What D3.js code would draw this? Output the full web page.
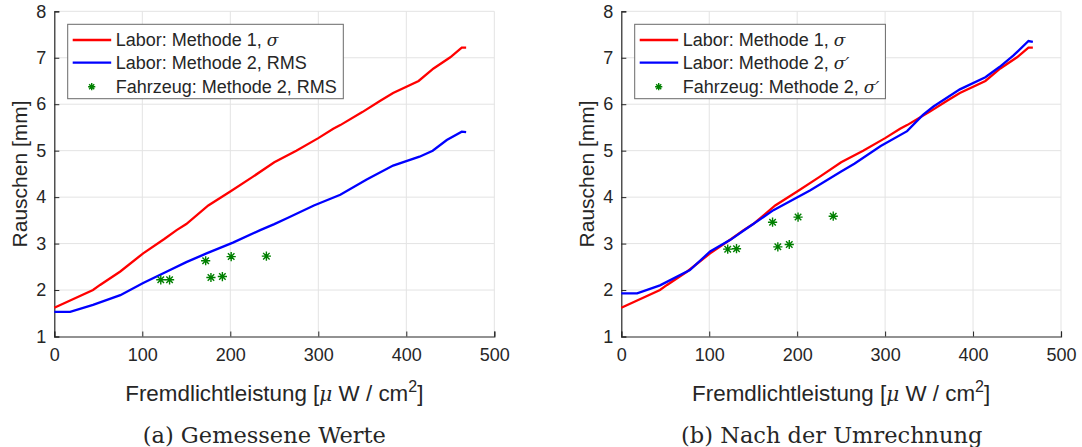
<!DOCTYPE html>
<html>
<head>
<meta charset="utf-8">
<script src="https://cdn.jsdelivr.net/npm/d3@7"></script>
<style>
  body { margin: 0; background: #fff; }
  text { font-family: "Liberation Sans", Arial, sans-serif; fill: #262626; }
</style>
</head>
<body>
<svg id="chart" width="1082" height="447"></svg>
<script>
// light power [µW/cm²] and noise [mm]
const xTicks = [0, 100, 200, 300, 400, 500];
const yTicks = [1, 2, 3, 4, 5, 6, 7, 8];

// Labor, Methode 1 (sigma) - same curve in both panels
const methode1X = [0, 44, 52, 75, 101, 125, 139, 150, 175, 200, 225, 250, 275, 300, 317, 325, 350, 370, 385, 414, 431, 450, 463, 468];
const methode1Y = [1.62, 2.0, 2.11, 2.4, 2.79, 3.1, 3.29, 3.42, 3.82, 4.12, 4.43, 4.75, 5.0, 5.27, 5.47, 5.55, 5.83, 6.07, 6.24, 6.5, 6.77, 7.01, 7.22, 7.22];

// Labor, Methode 2, RMS (left panel)
const rmsX = [0, 18, 44, 75, 101, 128, 150, 173, 203, 234, 250, 265, 295, 325, 355, 385, 415, 430, 446, 463, 468];
const rmsY = [1.53, 1.53, 1.68, 1.89, 2.15, 2.40, 2.6, 2.79, 3.02, 3.29, 3.42, 3.55, 3.82, 4.05, 4.38, 4.68, 4.87, 5.0, 5.23, 5.41, 5.40];

// Labor, Methode 2, sigma' (right panel)
const sigmaX = [0, 18, 44, 78, 101, 124, 143, 173, 215, 250, 265, 295, 325, 343, 355, 385, 414, 430, 446, 463, 468];
const sigmaY = [1.93, 1.93, 2.1, 2.43, 2.83, 3.08, 3.33, 3.72, 4.15, 4.55, 4.72, 5.1, 5.42, 5.77, 5.95, 6.32, 6.58, 6.8, 7.05, 7.36, 7.34];

// Fahrzeug, Methode 2
const fzgX = [121, 131, 172, 178, 191, 201, 241];
const fzgRms = [2.22, 2.22, 2.63, 2.27, 2.29, 2.72, 2.73];
const fzgSigma = [2.88, 2.89, 3.46, 2.93, 2.98, 3.57, 3.59];

const svg = d3.select('#chart');
const plotTop = 11.3, plotBottom = 336.5;
const axisColor = '#262626';
const gridColor = '#e3e3e3';

function zip(xs, ys) {
    return xs.map((x, i) => [x, ys[i]]);
}

// 8-arm asterisk like the matlab '*' marker
function asterisk(g, cx, cy, r) {
    const d = [];
    for (let k = 0; k < 4; k++) {
        const a = k * Math.PI / 4;
        const dx = r * Math.cos(a), dy = r * Math.sin(a);
        d.push(`M${cx - dx},${cy - dy}L${cx + dx},${cy + dy}`);
    }
    g.append('path')
        .attr('d', d.join(''))
        .attr('stroke', '#008000')
        .attr('stroke-width', 1.4)
        .attr('fill', 'none');
}

function drawPanel(opts) {
    const x = d3.scaleLinear().domain([0, 500]).range([opts.left, opts.right]);
    const y = d3.scaleLinear().domain([1, 8]).range([plotBottom, plotTop]);
    const g = svg.append('g');

    // grid
    g.append('g').selectAll('line')
        .data(xTicks.slice(1))
        .enter().append('line')
        .attr('x1', d => x(d)).attr('x2', d => x(d))
        .attr('y1', plotTop).attr('y2', plotBottom)
        .attr('stroke', gridColor);
    g.append('g').selectAll('line')
        .data(yTicks.slice(1))
        .enter().append('line')
        .attr('x1', opts.left).attr('x2', opts.right)
        .attr('y1', d => y(d)).attr('y2', d => y(d))
        .attr('stroke', gridColor);

    // axes (ticks inward)
    const xAxis = d3.axisBottom(x).tickValues(xTicks).tickFormat(d3.format('d')).tickSize(-5).tickPadding(12);
    const yAxis = d3.axisLeft(y).tickValues(yTicks).tickFormat(d3.format('d')).tickSize(-5).tickPadding(8);
    const gx = g.append('g').attr('transform', `translate(0,${plotBottom})`).call(xAxis);
    const gy = g.append('g').attr('transform', `translate(${opts.left},0)`).call(yAxis);
    [gx, gy].forEach(a => {
        a.select('.domain').attr('stroke', axisColor).attr('stroke-width', 1.2);
        a.selectAll('.tick line').attr('stroke', axisColor);
        a.selectAll('.tick text')
            .style('font-family', '"Liberation Sans", Arial, sans-serif')
            .style('font-size', '18px')
            .attr('fill', axisColor);
    });
    gx.selectAll('.tick text').attr('dy', '0.71em');

    // lines
    const line = d3.line().x(d => x(d[0])).y(d => y(d[1]));
    opts.lines.forEach(l => {
        g.append('path')
            .datum(zip(l.xs, l.ys))
            .attr('d', line)
            .attr('fill', 'none')
            .attr('stroke', l.color)
            .attr('stroke-width', 2.3);
    });

    // vehicle markers
    const mk = g.append('g');
    fzgX.forEach((v, i) => asterisk(mk, x(v), y(opts.points[i]), 4.6));

    // axis labels
    const lx = g.append('text')
        .attr('x', (opts.left + opts.right) / 2)
        .attr('y', 401)
        .attr('text-anchor', 'middle')
        .style('font-size', '22.4px');
    lx.append('tspan').text('Fremdlichtleistung [');
    lx.append('tspan').style('font-family', '"DejaVu Serif", serif').style('font-style', 'italic').style('font-size', '20px').text('μ');
    lx.append('tspan').text(' W / cm');
    lx.append('tspan').attr('dy', -9).style('font-size', '16px').text('2');
    lx.append('tspan').attr('dy', 9).text(']');

    g.append('text')
        .attr('transform', `translate(${opts.left - 27},${(plotTop + plotBottom) / 2}) rotate(-90)`)
        .attr('text-anchor', 'middle')
        .style('font-size', '21px')
        .text('Rauschen [mm]');

    // caption
    g.append('text')
        .attr('x', opts.captionX)
        .attr('y', 443)
        .attr('text-anchor', 'middle')
        .style('font-family', '"DejaVu Serif", serif')
        .style('font-size', '22.5px')
        .attr('fill', '#000')
        .text(opts.caption);

    // legend
    const lg = g.append('g').attr('transform', `translate(${opts.left + 13.4},24.3)`);
    lg.append('rect')
        .attr('width', opts.legendW).attr('height', 74.4)
        .attr('fill', '#fff')
        .attr('stroke', '#6a6a6a')
        .attr('stroke-width', 1);
    const rows = [15.7, 38.3, 62.4];
    opts.legend.forEach((item, i) => {
        if (item.color) {
            lg.append('line')
                .attr('x1', 5).attr('x2', 43.5)
                .attr('y1', rows[i]).attr('y2', rows[i])
                .attr('stroke', item.color).attr('stroke-width', 2.3);
        } else {
            asterisk(lg, 24, rows[i], 3.6);
        }
        const t = lg.append('text')
            .attr('x', 48)
            .attr('y', rows[i])
            .attr('dy', '0.35em')
            .style('font-size', '18px')
            .attr('fill', '#000');
        t.append('tspan').text(item.text);
        if (item.sym) {
            t.append('tspan')
                .style('font-family', '"DejaVu Serif", serif')
                .style('font-style', 'italic')
                .style('font-size', '17px')
                .text(item.sym);
        }
    });
}

drawPanel({
    left: 54.3, right: 494.3,
    lines: [
        { xs: methode1X, ys: methode1Y, color: '#ff0000' },
        { xs: rmsX, ys: rmsY, color: '#0000ff' }
    ],
    points: fzgRms,
    caption: '(a) Gemessene Werte',
    captionX: 264.3,
    legendW: 275.6,
    legend: [
        { text: 'Labor: Methode 1, ', sym: 'σ', color: '#ff0000' },
        { text: 'Labor: Methode 2, RMS', color: '#0000ff' },
        { text: 'Fahrzeug: Methode 2, RMS' }
    ]
});

drawPanel({
    left: 621.3, right: 1061,
    lines: [
        { xs: methode1X, ys: methode1Y, color: '#ff0000' },
        { xs: sigmaX, ys: sigmaY, color: '#0000ff' }
    ],
    points: fzgSigma,
    caption: '(b) Nach der Umrechnung',
    captionX: 831.8,
    legendW: 250.7,
    legend: [
        { text: 'Labor: Methode 1, ', sym: 'σ', color: '#ff0000' },
        { text: 'Labor: Methode 2, ', sym: 'σ′', color: '#0000ff' },
        { text: 'Fahrzeug: Methode 2, ', sym: 'σ′' }
    ]
});
</script>
</body>
</html>
